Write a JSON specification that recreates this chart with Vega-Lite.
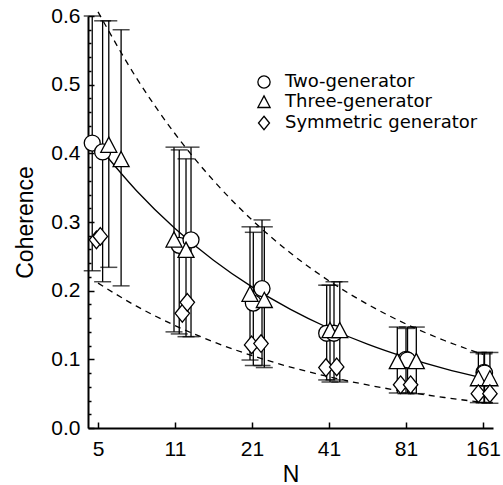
{
  "$schema": "https://vega.github.io/schema/vega-lite/v6.json",
  "width": 405,
  "height": 412,
  "autosize": {"type": "none"},
  "padding": {"left": 88, "top": 16, "right": 10, "bottom": 57},
  "background": "white",
  "config": {
    "view": {"stroke": null},
    "axis": {
      "grid": false,
      "domainColor": "black",
      "domainWidth": 2,
      "tickColor": "black",
      "tickWidth": 1.5,
      "labelColor": "black",
      "titleColor": "black",
      "labelFont": "Liberation Sans",
      "titleFont": "Liberation Sans",
      "labelFontSize": 21,
      "titleFontSize": 23,
      "titleFontWeight": "normal",
      "labelOverlap": false
    }
  },
  "resolve": {"axis": {"y": "independent"}},
  "datasets": {
    "curves": [
      {"x": 0, "y": 0.606, "c": "upper"}, {"x": 0.5, "y": 0.5096, "c": "upper"}, {"x": 1, "y": 0.4285, "c": "upper"}, {"x": 1.5, "y": 0.3603, "c": "upper"}, {"x": 2, "y": 0.303, "c": "upper"}, {"x": 2.5, "y": 0.2548, "c": "upper"}, {"x": 3, "y": 0.2143, "c": "upper"}, {"x": 3.5, "y": 0.1802, "c": "upper"}, {"x": 4, "y": 0.1515, "c": "upper"}, {"x": 4.5, "y": 0.1274, "c": "upper"}, {"x": 5, "y": 0.1071, "c": "upper"},
      {"x": 0, "y": 0.411, "c": "mid"}, {"x": 0.5, "y": 0.3456, "c": "mid"}, {"x": 1, "y": 0.2906, "c": "mid"}, {"x": 1.5, "y": 0.2444, "c": "mid"}, {"x": 2, "y": 0.2055, "c": "mid"}, {"x": 2.5, "y": 0.1728, "c": "mid"}, {"x": 3, "y": 0.1453, "c": "mid"}, {"x": 3.5, "y": 0.1222, "c": "mid"}, {"x": 4, "y": 0.1028, "c": "mid"}, {"x": 4.5, "y": 0.0864, "c": "mid"}, {"x": 5, "y": 0.0727, "c": "mid"},
      {"x": 0, "y": 0.211, "c": "lower"}, {"x": 0.5, "y": 0.1774, "c": "lower"}, {"x": 1, "y": 0.1492, "c": "lower"}, {"x": 1.5, "y": 0.1255, "c": "lower"}, {"x": 2, "y": 0.1055, "c": "lower"}, {"x": 2.5, "y": 0.0887, "c": "lower"}, {"x": 3, "y": 0.0746, "c": "lower"}, {"x": 3.5, "y": 0.0627, "c": "lower"}, {"x": 4, "y": 0.0528, "c": "lower"}, {"x": 4.5, "y": 0.0444, "c": "lower"}, {"x": 5, "y": 0.0373, "c": "lower"}
    ],
    "pts": [
      {"x": -0.075, "y": 0.415, "s": "Two-generator", "lo": 0.229, "hi": 0.6},
      {"x": 0.06, "y": 0.402, "s": "Two-generator", "lo": 0.213, "hi": 0.593},
      {"x": 1.055, "y": 0.266, "s": "Two-generator", "lo": 0.137, "hi": 0.405},
      {"x": 1.208, "y": 0.274, "s": "Two-generator", "lo": 0.133, "hi": 0.409},
      {"x": 2.017, "y": 0.182, "s": "Two-generator", "lo": 0.091, "hi": 0.285},
      {"x": 2.13, "y": 0.203, "s": "Two-generator", "lo": 0.091, "hi": 0.303},
      {"x": 2.97, "y": 0.138, "s": "Two-generator", "lo": 0.07, "hi": 0.208},
      {"x": 3.065, "y": 0.138, "s": "Two-generator", "lo": 0.07, "hi": 0.213},
      {"x": 4.0, "y": 0.1, "s": "Two-generator", "lo": 0.05, "hi": 0.145},
      {"x": 4.02, "y": 0.099, "s": "Two-generator", "lo": 0.051, "hi": 0.147},
      {"x": 5.013, "y": 0.081, "s": "Two-generator", "lo": 0.037, "hi": 0.108},
      {"x": 5.02, "y": 0.08, "s": "Two-generator", "lo": 0.037, "hi": 0.11},
      {"x": 0.14, "y": 0.412, "s": "Three-generator", "lo": 0.234, "hi": 0.593},
      {"x": 0.3, "y": 0.391, "s": "Three-generator", "lo": 0.207, "hi": 0.58},
      {"x": 0.987, "y": 0.274, "s": "Three-generator", "lo": 0.14, "hi": 0.409},
      {"x": 1.143, "y": 0.259, "s": "Three-generator", "lo": 0.133, "hi": 0.392},
      {"x": 1.974, "y": 0.195, "s": "Three-generator", "lo": 0.099, "hi": 0.293},
      {"x": 2.16, "y": 0.186, "s": "Three-generator", "lo": 0.088, "hi": 0.293},
      {"x": 3.013, "y": 0.142, "s": "Three-generator", "lo": 0.067, "hi": 0.208},
      {"x": 3.14, "y": 0.142, "s": "Three-generator", "lo": 0.067, "hi": 0.213},
      {"x": 3.887, "y": 0.097, "s": "Three-generator", "lo": 0.051, "hi": 0.147},
      {"x": 4.134, "y": 0.097, "s": "Three-generator", "lo": 0.05, "hi": 0.147},
      {"x": 4.94, "y": 0.072, "s": "Three-generator", "lo": 0.037, "hi": 0.11},
      {"x": 5.09, "y": 0.072, "s": "Three-generator", "lo": 0.036, "hi": 0.11},
      {"x": -0.02, "y": 0.274, "s": "Symmetric generator"},
      {"x": 0.03, "y": 0.279, "s": "Symmetric generator"},
      {"x": 1.095, "y": 0.167, "s": "Symmetric generator"},
      {"x": 1.16, "y": 0.183, "s": "Symmetric generator"},
      {"x": 1.995, "y": 0.121, "s": "Symmetric generator"},
      {"x": 2.117, "y": 0.123, "s": "Symmetric generator"},
      {"x": 2.96, "y": 0.088, "s": "Symmetric generator"},
      {"x": 3.1, "y": 0.089, "s": "Symmetric generator"},
      {"x": 3.93, "y": 0.063, "s": "Symmetric generator"},
      {"x": 4.06, "y": 0.063, "s": "Symmetric generator"},
      {"x": 4.94, "y": 0.05, "s": "Symmetric generator"},
      {"x": 5.09, "y": 0.05, "s": "Symmetric generator"}
    ]
  },
  "layer": [
    {
      "data": {"name": "curves"},
      "transform": [{"filter": "datum.c != 'mid'"}],
      "mark": {"type": "line", "color": "black", "strokeWidth": 1.3, "strokeDash": [6, 5], "interpolate": "monotone"},
      "encoding": {
        "x": {
          "field": "x", "type": "quantitative", "title": "N",
          "scale": {"domain": [-0.13, 5.13], "nice": false, "zero": false},
          "axis": {
            "values": [0, 1, 2, 3, 4, 5],
            "labelExpr": "['5','11','21','41','81','161'][datum.value]",
            "tickSize": -6,
            "labelPadding": 16,
            "titleY": 46,
            "titleBaseline": "middle"
          }
        },
        "y": {
          "field": "y", "type": "quantitative", "title": "Coherence",
          "scale": {"domain": [0, 0.6], "nice": false, "zero": true},
          "axis": {
            "orient": "left",
            "values": [0, 0.1, 0.2, 0.3, 0.4, 0.5, 0.6],
            "format": ".1f",
            "tickSize": -6,
            "labelPadding": 14,
            "titleX": -63,
            "titleY": 206,
            "titleBaseline": "middle",
            "titleAlign": "center"
          }
        },
        "detail": {"field": "c"}
      }
    },
    {
      "data": {"name": "curves"},
      "transform": [{"filter": "datum.c == 'mid'"}],
      "mark": {"type": "line", "color": "black", "strokeWidth": 1.3, "interpolate": "monotone"},
      "encoding": {
        "x": {"field": "x", "type": "quantitative", "title": "N"},
        "y": {"field": "y", "type": "quantitative", "title": "Coherence", "axis": null}
      }
    },
    {
      "data": {"name": "pts"},
      "transform": [{"filter": "isValid(datum.lo)"}],
      "mark": {"type": "rule", "color": "black", "strokeWidth": 1.3},
      "encoding": {
        "x": {"field": "x", "type": "quantitative", "title": "N"},
        "y": {
          "field": "lo", "type": "quantitative", "title": "Coherence",
          "axis": {
            "orient": "left",
            "values": [0.02, 0.04, 0.06, 0.08, 0.12, 0.14, 0.16, 0.18, 0.22, 0.24, 0.26, 0.28, 0.32, 0.34, 0.36, 0.38, 0.42, 0.44, 0.46, 0.48, 0.52, 0.54, 0.56, 0.58],
            "labels": false,
            "domain": false,
            "tickSize": -3,
            "title": null
          }
        },
        "y2": {"field": "hi"}
      }
    },
    {
      "data": {"name": "pts"},
      "transform": [{"filter": "isValid(datum.lo)"}],
      "mark": {"type": "tick", "orient": "horizontal", "size": 17, "thickness": 1.5, "color": "black"},
      "encoding": {
        "x": {"field": "x", "type": "quantitative", "title": "N"},
        "y": {"field": "lo", "type": "quantitative", "title": "Coherence", "axis": null}
      }
    },
    {
      "data": {"name": "pts"},
      "transform": [{"filter": "isValid(datum.hi)"}],
      "mark": {"type": "tick", "orient": "horizontal", "size": 17, "thickness": 1.5, "color": "black"},
      "encoding": {
        "x": {"field": "x", "type": "quantitative", "title": "N"},
        "y": {"field": "hi", "type": "quantitative", "title": "Coherence", "axis": null}
      }
    },
    {
      "data": {"name": "pts"},
      "mark": {"type": "point", "filled": false, "strokeWidth": 1.3, "size": 256, "opacity": 1},
      "encoding": {
        "x": {"field": "x", "type": "quantitative", "title": "N"},
        "y": {"field": "y", "type": "quantitative", "title": "Coherence", "axis": null},
        "fill": {"value": "white"},
        "stroke": {"value": "black"},
        "shape": {
          "field": "s", "type": "nominal",
          "scale": {
            "domain": ["Two-generator", "Three-generator", "Symmetric generator"],
            "range": ["circle", "M0,-1L1,0.9L-1,0.9Z", "M0,-1.1L0.9,0L0,1.1L-0.9,0Z"]
          },
          "legend": {
            "orient": "none",
            "legendX": 167,
            "legendY": 57,
            "title": null,
            "symbolSize": 150,
            "symbolStrokeWidth": 1.3,
            "labelFont": "DejaVu Sans",
            "labelFontSize": 18,
            "labelColor": "black",
            "labelLimit": 0,
            "labelOffset": 12,
            "rowPadding": 2,
            "padding": 0
          }
        }
      }
    }
  ]
}
